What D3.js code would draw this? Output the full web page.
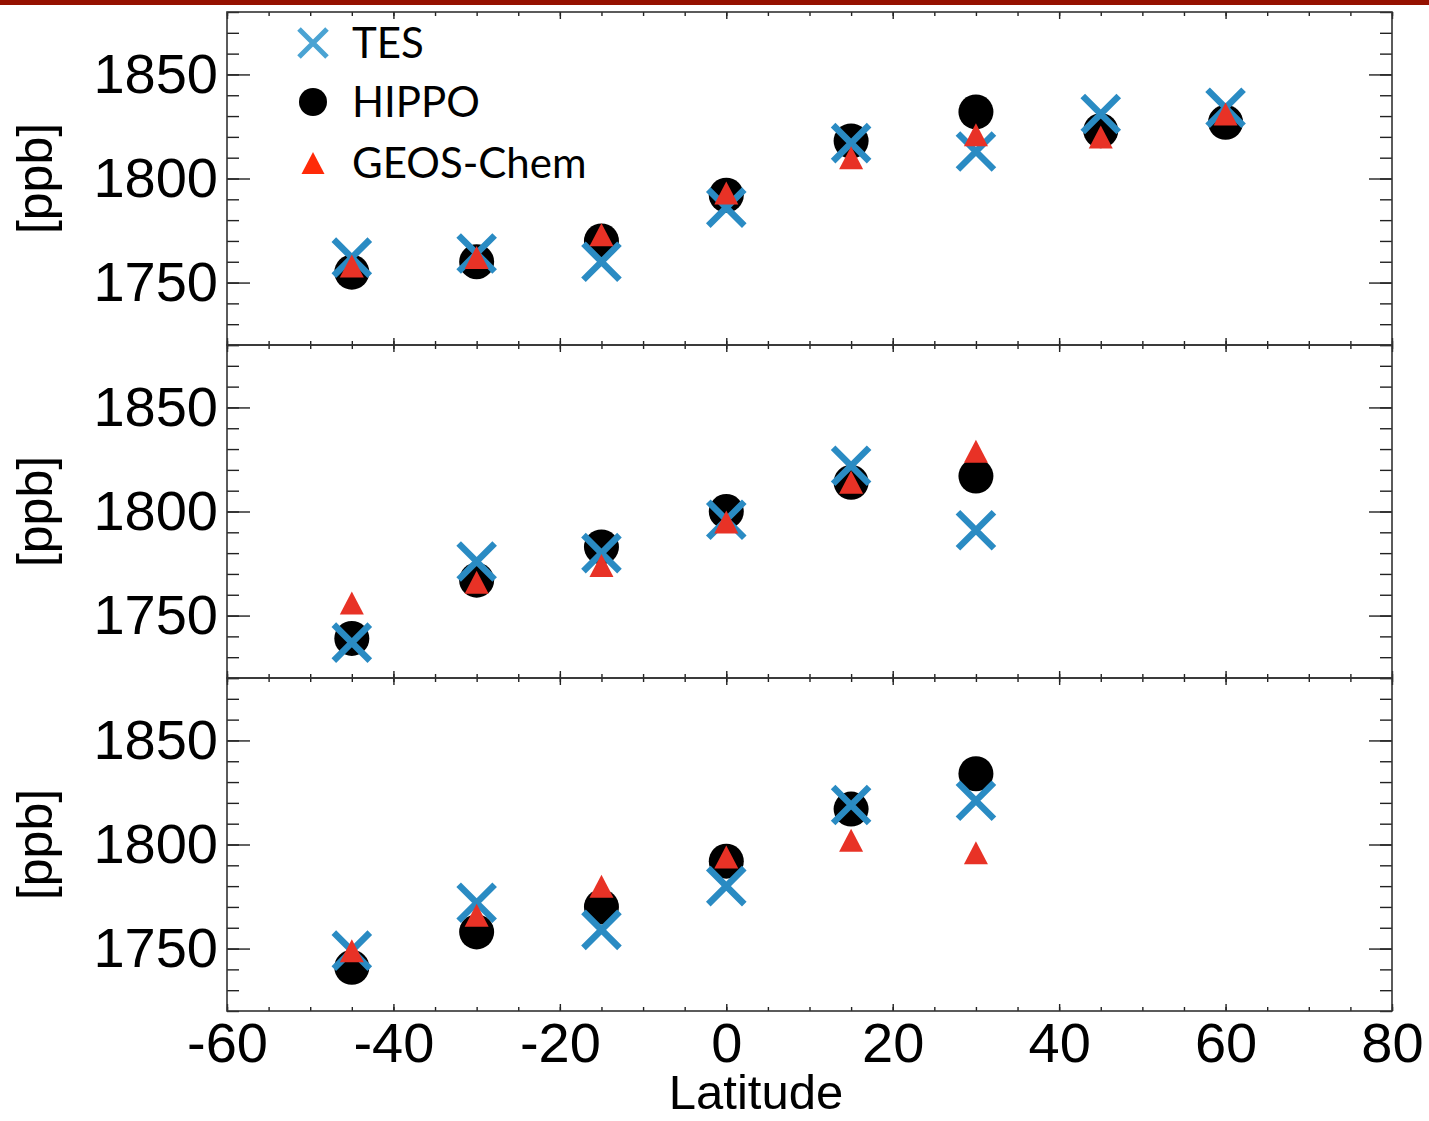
<!DOCTYPE html>
<html>
<head>
<meta charset="utf-8">
<script src="https://cdn.jsdelivr.net/npm/d3@7"></script>
<style>
  body { margin: 0; background: #fff; }
  svg { display: block; }
  .tick text { font-family: "Liberation Sans", Arial, sans-serif; fill: #000; }
</style>
</head>
<body>
<div id="chart"></div>
<script>
// latitude bins (deg)
const latitudes = [-45, -30, -15, 0, 15, 30, 45, 60];

// panel 1 [ppb]
const tes1   = [1762, 1764, 1760, 1786, 1817, 1813, 1831, 1834];
const hippo1 = [1755, 1760, 1770, 1792, 1818, 1832, 1823, 1827];
const geos1  = [1758, 1762, 1773, 1793, 1810, 1821, 1820, 1831];

// panel 2 [ppb]
const tes2   = [1737, 1776, 1780, 1796, 1822, 1791];
const hippo2 = [1739, 1767, 1783, 1800, 1814, 1817];
const geos2  = [1756, 1766, 1774, 1795, 1814, 1829];

// panel 3 [ppb]
const tes3   = [1749, 1772, 1759, 1780, 1819, 1821];
const hippo3 = [1741, 1758, 1770, 1792, 1817, 1834];
const geos3  = [1749, 1766, 1780, 1794, 1802, 1796];

const yMajorTicks = [1750, 1800, 1850];
const xMajorTicks = [-60, -40, -20, 0, 20, 40, 60, 80];
const legendLabels = ["TES", "HIPPO", "GEOS-Chem"];

const panels = [
  {tes: tes1, hippo: hippo1, geos: geos1},
  {tes: tes2, hippo: hippo2, geos: geos2},
  {tes: tes3, hippo: hippo3, geos: geos3}
];

const width = 1429, height = 1121;
const plotLeft = 227, plotRight = 1392;
const panelTop = 12, panelH = 333;

const blue = "#2a8bc3", red = "#e83226";

const svg = d3.select("#chart").append("svg")
  .attr("width", width)
  .attr("height", height);

// dark red strip along the top
svg.append("rect")
  .attr("x", 0).attr("y", 0)
  .attr("width", width).attr("height", 5)
  .attr("fill", "#951100");

const x = d3.scaleLinear().domain([-60, 80]).range([plotLeft, plotRight]);

const xMinor = d3.range(-60, 81, 5);
const yMinor = d3.range(1720, 1881, 10);
const plain = d => String(d);   // hyphen minus, no thousands comma

function crossPath(s) {
  return "M" + (-s) + "," + (-s) + "L" + s + "," + s + "M" + (-s) + "," + s + "L" + s + "," + (-s);
}
function triPath(w, h) {
  return "M0," + (-h / 2) + "L" + (w / 2) + "," + (h / 2) + "L" + (-w / 2) + "," + (h / 2) + "Z";
}

panels.forEach(function(p, i) {
  const top = panelTop + i * panelH;
  const y = d3.scaleLinear().domain([1720, 1880]).range([top + panelH, top]);
  const g = svg.append("g");
  const last = i === panels.length - 1;

  // left: minor ticks then major with labels
  g.append("g").attr("transform", "translate(" + plotLeft + ",0)")
    .call(d3.axisLeft(y).tickValues(yMinor).tickSizeInner(-12).tickSizeOuter(0).tickFormat(""));
  g.append("g").attr("class", "ylab").attr("transform", "translate(" + plotLeft + ",0)")
    .call(d3.axisLeft(y).tickValues(yMajorTicks).tickSizeInner(-23).tickSizeOuter(0).tickPadding(9).tickFormat(plain))
    .selectAll("text").attr("font-size", 56);

  // right side ticks
  g.append("g").attr("transform", "translate(" + plotRight + ",0)")
    .call(d3.axisRight(y).tickValues(yMinor).tickSizeInner(-12).tickSizeOuter(0).tickFormat(""));
  g.append("g").attr("transform", "translate(" + plotRight + ",0)")
    .call(d3.axisRight(y).tickValues(yMajorTicks).tickSizeInner(-23).tickSizeOuter(0).tickFormat(""));

  // top and bottom ticks
  g.append("g").attr("transform", "translate(0," + top + ")")
    .call(d3.axisTop(x).tickValues(xMinor).tickSizeInner(-4).tickSizeOuter(0).tickFormat(""));
  g.append("g").attr("transform", "translate(0," + top + ")")
    .call(d3.axisTop(x).tickValues(xMajorTicks).tickSizeInner(-7).tickSizeOuter(0).tickFormat(""));
  g.append("g").attr("transform", "translate(0," + (top + panelH) + ")")
    .call(d3.axisBottom(x).tickValues(xMinor).tickSizeInner(-4).tickSizeOuter(0).tickFormat(""));
  const xb = g.append("g").attr("transform", "translate(0," + (top + panelH) + ")")
    .call(d3.axisBottom(x).tickValues(xMajorTicks).tickSizeInner(-7).tickSizeOuter(0).tickPadding(11)
      .tickFormat(last ? plain : ""));
  xb.selectAll("text").attr("font-size", 56);

  g.selectAll(".domain").remove();
  g.selectAll(".tick line").attr("stroke", "#222").attr("stroke-width", 1.4);

  // frame
  g.append("rect")
    .attr("x", plotLeft).attr("y", top)
    .attr("width", plotRight - plotLeft).attr("height", panelH)
    .attr("fill", "none").attr("stroke", "#333").attr("stroke-width", 1.6);

  // y label
  g.append("text")
    .attr("transform", "translate(52," + (top + panelH / 2) + ") rotate(-90)")
    .attr("text-anchor", "middle")
    .attr("font-family", "Liberation Sans, Arial, sans-serif")
    .attr("font-size", 50)
    .text("[ppb]");

  const n = p.tes.length;
  const lat = latitudes.slice(0, n);

  g.selectAll(".hippo").data(lat).enter().append("circle")
    .attr("cx", d => x(d))
    .attr("cy", (d, k) => y(p.hippo[k]))
    .attr("r", 17.5)
    .attr("fill", "#000");

  g.selectAll(".tes").data(lat).enter().append("path")
    .attr("transform", (d, k) => "translate(" + x(d) + "," + y(p.tes[k]) + ")")
    .attr("d", crossPath(18))
    .attr("stroke", blue)
    .attr("stroke-width", 6.5)
    .attr("fill", "none");

  g.selectAll(".geos").data(lat).enter().append("path")
    .attr("transform", (d, k) => "translate(" + x(d) + "," + y(p.geos[k]) + ")")
    .attr("d", triPath(24, 23))
    .attr("fill", red);
});

// x label
svg.append("text")
  .attr("x", 756).attr("y", 1109)
  .attr("text-anchor", "middle")
  .attr("font-family", "Liberation Sans, Arial, sans-serif")
  .attr("font-size", 49)
  .text("Latitude");

// legend
const legend = svg.append("g");
const legY = [43, 102, 163];
legend.append("path")
  .attr("transform", "translate(313," + legY[0] + ")")
  .attr("d", crossPath(14))
  .attr("stroke", "#4aa3d3").attr("stroke-width", 5).attr("fill", "none");
legend.append("circle")
  .attr("cx", 313).attr("cy", legY[1]).attr("r", 14).attr("fill", "#000");
legend.append("path")
  .attr("transform", "translate(313," + legY[2] + ")")
  .attr("d", triPath(23, 22))
  .attr("fill", "#ff2a08");
legend.selectAll("text").data(legendLabels).enter().append("text")
  .attr("x", 352)
  .attr("y", (d, i) => legY[i] + 15)
  .attr("font-family", "Lato, 'Open Sans', sans-serif")
  .attr("font-size", 42)
  .text(d => d);
</script>
</body>
</html>
